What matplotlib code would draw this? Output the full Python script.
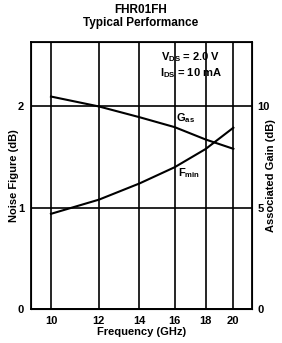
import numpy as np
import matplotlib.pyplot as plt
from matplotlib.ticker import FixedLocator, NullLocator

plt.rcParams['font.family'] = ['Liberation Sans', 'DejaVu Sans']
plt.rcParams['font.weight'] = 'bold'
plt.rcParams['mathtext.fontset'] = 'custom'
plt.rcParams['mathtext.rm'] = 'Liberation Sans:bold'
plt.rcParams['mathtext.bf'] = 'Liberation Sans:bold'

freq = [10, 12, 14, 16, 18, 20]
gain_as = [10.49, 10.0, 9.47, 8.98, 8.37, 7.91]   # associated gain, dB (right axis)
nf_min = [0.94, 1.08, 1.24, 1.40, 1.58, 1.79]     # noise figure, dB (left axis)
xticks = [10, 12, 14, 16, 18, 20]
nf_ticks = [0, 1, 2]
gain_ticks = [0, 5, 10]

fig = plt.figure(figsize=(2.82, 3.43), dpi=100)
ax = fig.add_axes([0.110, 0.099, 0.7836, 0.7796])

ax.set_xscale('log')
ax.set_xlim(9.27, 21.47)
ax.set_ylim(0, 2.64)
ax.xaxis.set_major_locator(FixedLocator(xticks))
ax.xaxis.set_minor_locator(NullLocator())
ax.set_xticklabels([str(t) for t in xticks])
ax.set_yticks(nf_ticks)
ax.tick_params(length=0, labelsize=8, pad=5)
ax.grid(True, color='black', linewidth=1.2)
for s in ax.spines.values():
    s.set_linewidth(1.3)

ax2 = ax.twinx()
ax2.set_ylim(0, 13.2)
ax2.set_yticks(gain_ticks)
ax2.tick_params(length=0, labelsize=8, pad=4)

ax.plot(freq, nf_min, color='black', linewidth=1.5)
ax2.plot(freq, gain_as, color='black', linewidth=1.5)

ax.text(16.65, 1.887, 'G$_{\\mathrm{as}}$', fontsize=8, ha='center', va='center')
ax.text(16.9, 1.344, 'F$_{\\mathrm{min}}$', fontsize=8, ha='center', va='center')
ax.text(0.724, 0.943, 'V$_{\\mathrm{DS}}$ = 2.0 V', transform=ax.transAxes,
        fontsize=8, ha='center', va='center')
ax.text(0.724, 0.882, 'I$_{\\mathrm{DS}}$ = 10 mA', transform=ax.transAxes,
        fontsize=8, ha='center', va='center')

ax.set_xlabel('Frequency (GHz)', fontsize=8, fontweight='bold')
ax.set_ylabel('Noise Figure (dB)', fontsize=8, fontweight='bold')
ax2.set_ylabel('Associated Gain (dB)', fontsize=8, fontweight='bold')
ax.xaxis.set_label_coords(0.5, -0.086)
ax.yaxis.set_label_coords(-0.077, 0.5)
ax2.yaxis.set_label_coords(1.086, 0.5)
ax.xaxis.label.set_va('center')
ax.yaxis.label.set_va('center')
ax2.yaxis.label.set_va('center')

fig.text(0.5, 0.971, 'FHR01FH', ha='center', va='center', fontsize=8.5, fontweight='bold')
fig.text(0.5, 0.933, 'Typical Performance', ha='center', va='center', fontsize=8.5,
         fontweight='bold')

fig.savefig('out.png', dpi=100)
